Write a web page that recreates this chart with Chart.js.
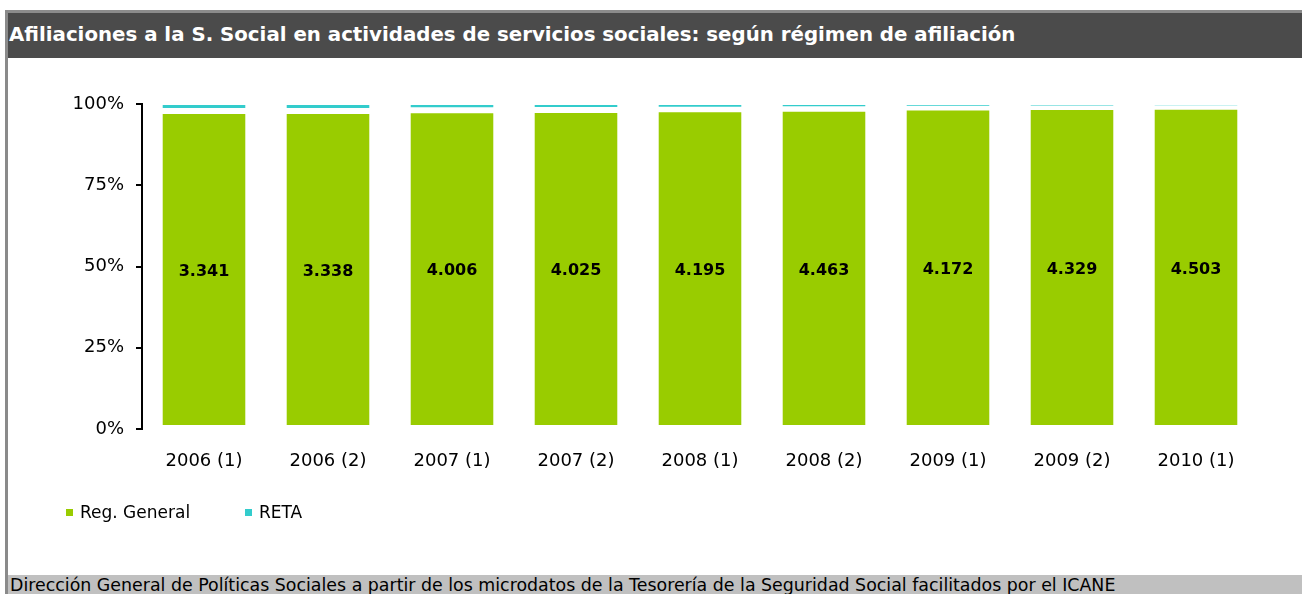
<!DOCTYPE html>
<html>
<head>
<meta charset="utf-8">
<script src="https://cdn.jsdelivr.net/npm/chart.js@4.4.1/dist/chart.umd.min.js"></script>
<style>
  html, body { margin:0; padding:0; }
  body { width:1302px; height:594px; position:relative; overflow:hidden; background:#fff; font-family:"DejaVu Sans", sans-serif; }
  #leftBorder { position:absolute; left:5px; top:10px; width:3px; height:584px; background:#8a8a8a; }
  #titleBar { position:absolute; left:8px; top:10px; width:1294px; height:48px; box-sizing:border-box; background:#4b4b4b; border-top:3px solid #8c8c8c; color:#fff; font-weight:bold; font-size:19.8px; line-height:43px; padding-left:1px; white-space:nowrap; }
  #chartBox { position:absolute; left:8px; top:58px; width:1294px; height:517px; }
  #legend { position:absolute; left:0; top:500px; height:24px; width:600px; font-size:17px; color:#000; }
  .lg { position:absolute; top:0; height:24px; line-height:24px; white-space:nowrap; }
  .lg span.sw { position:absolute; left:0; top:9px; width:7px; height:7px; }
  .lg span.tx { position:absolute; left:14px; top:0; }
  #footer { position:absolute; left:8px; top:575px; width:1294px; height:19px; background:#c0c0c0; color:#000; font-size:17.4px; line-height:20px; padding-left:2px; box-sizing:border-box; white-space:nowrap; overflow:hidden; }
</style>
</head>
<body>
<div id="leftBorder"></div>
<div id="titleBar">Afiliaciones a la S. Social en actividades de servicios sociales: según régimen de afiliación</div>
<div id="chartBox"><canvas id="c"></canvas></div>
<div id="legend"></div>
<div id="footer">Dirección General de Políticas Sociales a partir de los microdatos de la Tesorería de la Seguridad Social facilitados por el ICANE</div>
<script>
// ---- data ----
const categories = ["2006 (1)", "2006 (2)", "2007 (1)", "2007 (2)", "2008 (1)", "2008 (2)", "2009 (1)", "2009 (2)", "2010 (1)"];
const regGeneral = [3341, 3338, 4006, 4025, 4195, 4463, 4172, 4329, 4503];
const reta       = [74, 74, 79, 76, 70, 66, 46, 40, 38];
const seriesNames = ["Reg. General", "RETA"];
const seriesColors = ["#99CC00", "#33CCCC"];
const yTicks = [0, 25, 50, 75, 100];

// 100% stacked shares
const totals = regGeneral.map((v, i) => v + reta[i]);
const regPct = regGeneral.map((v, i) => v / totals[i] * 100);
const retaPct = reta.map((v, i) => v / totals[i] * 100);

// legend (HTML)
const legendPos = [66, 245];
const lg = document.getElementById('legend');
seriesNames.forEach((n, i) => {
  const d = document.createElement('div');
  d.className = 'lg';
  d.style.left = legendPos[i] + 'px';
  d.innerHTML = '<span class="sw" style="background:' + seriesColors[i] + '"></span><span class="tx">' + n + '</span>';
  lg.appendChild(d);
});

const fmt = v => String(v).replace(/\B(?=(\d{3})+(?!\d))/g, '.');

const labelPlugin = {
  id: 'barLabels',
  afterDatasetsDraw(chart) {
    const ctx = chart.ctx;
    const meta = chart.getDatasetMeta(0);
    ctx.save();
    ctx.font = 'bold 16px "DejaVu Sans"';
    ctx.fillStyle = '#000';
    ctx.textAlign = 'center';
    ctx.textBaseline = 'middle';
    meta.data.forEach((el, i) => {
      const p = el.getProps(['x', 'y', 'base'], true);
      ctx.fillText(fmt(regGeneral[i]), p.x, (p.y + p.base) / 2 + 2);
    });
    ctx.restore();
  }
};

new Chart(document.getElementById('c'), {
  type: 'bar',
  data: {
    labels: categories,
    datasets: [
      { label: seriesNames[0], data: regPct, backgroundColor: seriesColors[0], borderColor: '#ffffff',
        borderWidth: { top: 3, bottom: 3, left: 0, right: 0 }, borderSkipped: false },
      { label: seriesNames[1], data: retaPct, backgroundColor: seriesColors[1], borderColor: '#ffffff',
        borderWidth: { top: 1, bottom: 3, left: 0, right: 0 }, borderSkipped: false }
    ]
  },
  options: {
    responsive: true,
    maintainAspectRatio: false,
    animation: false,
    datasets: { bar: { categoryPercentage: 1.0, barPercentage: 0.67 } },
    layout: { padding: { top: 46, right: 44, bottom: 106, left: 0 } },
    plugins: { legend: { display: false }, tooltip: { enabled: false } },
    scales: {
      x: {
        stacked: true,
        grid: { display: false, drawTicks: false },
        border: { display: false },
        ticks: { color: '#000', font: { family: 'DejaVu Sans', size: 18 }, padding: 22, maxRotation: 0 },
        afterFit(s) { s.height = 40; }
      },
      y: {
        stacked: true,
        min: 0, max: 100,
        afterBuildTicks(s) { s.ticks = yTicks.map(v => ({ value: v })); },
        grid: { drawOnChartArea: false, drawTicks: true, tickLength: 6, color: '#000', lineWidth: 2 },
        border: { display: true, color: '#000', width: 2 },
        ticks: { color: '#000', font: { family: 'DejaVu Sans', size: 18 }, padding: 12, callback: v => v + '%' },
        afterFit(s) { s.width = 134; }
      }
    }
  },
  plugins: [labelPlugin]
});
</script>
</body>
</html>
